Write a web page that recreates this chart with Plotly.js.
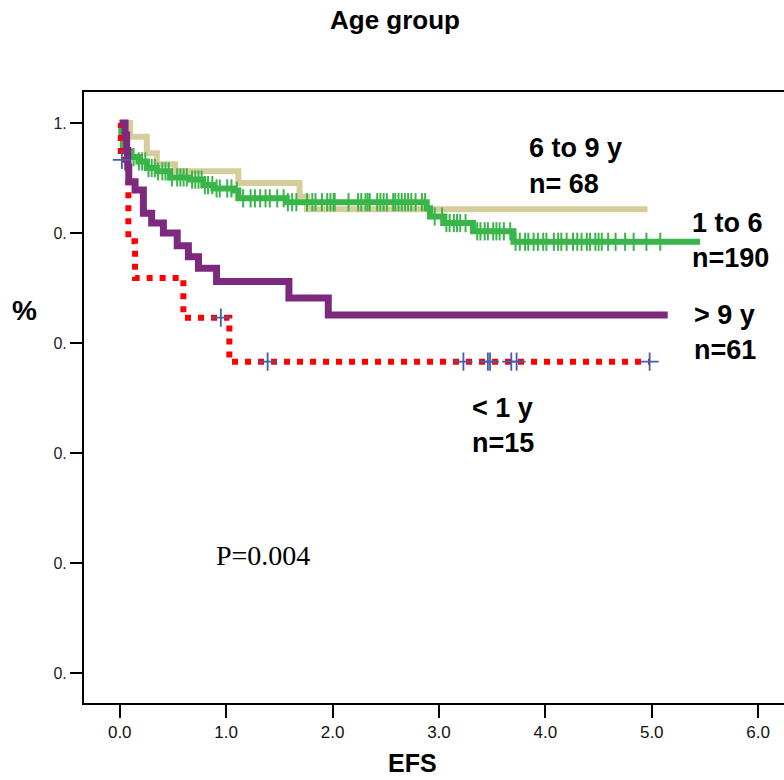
<!DOCTYPE html>
<html>
<head>
<meta charset="utf-8">
<script src="https://cdn.plot.ly/plotly-3.0.1.min.js"></script>
<style>html,body{margin:0;padding:0;background:#fff;}#chart{width:784px;height:780px;}</style>
</head>
<body>
<div id="chart"></div>
<script>
// ---- data ----
const tanT  = [0, 0.097, 0.254, 0.348, 0.52, 1.115, 1.69, 1.76, 4.96];
const tanS  = [1.0, 0.975, 0.945, 0.925, 0.912, 0.891, 0.866, 0.843, 0.843];

const greenT = [0, 0.015, 0.03, 0.05, 0.097, 0.175, 0.254, 0.348, 0.473, 0.66, 0.786, 0.88, 1.068, 1.115, 1.57, 2.885, 2.916, 3.04, 3.32, 3.70, 5.454];
const greenS = [1.0, 0.978, 0.96, 0.948, 0.938, 0.93, 0.918, 0.912, 0.901, 0.897, 0.887, 0.881, 0.877, 0.863, 0.856, 0.845, 0.830, 0.818, 0.803, 0.784, 0.784];
const greenCens = [0.05, 0.10, 0.13, 0.18, 0.21, 0.24, 0.27, 0.30, 0.33, 0.36, 0.40, 0.43, 0.46, 0.49, 0.54, 0.57, 0.60, 0.63, 0.68, 0.71, 0.74, 0.77, 0.80, 0.83, 0.87, 0.91, 0.94, 1.01, 1.05, 1.10, 1.16, 1.23, 1.27, 1.32, 1.37, 1.41, 1.48,
  1.54, 1.58, 1.62, 1.66, 1.76, 1.81, 1.84, 1.90, 1.95, 1.98, 2.01, 2.02, 2.15, 2.24, 2.27, 2.31, 2.33, 2.35, 2.42, 2.45, 2.48, 2.51, 2.57, 2.59, 2.62, 2.65, 2.68, 2.71, 2.74, 2.78, 2.84, 2.87,
  2.96, 3.03, 3.07, 3.10, 3.14, 3.17, 3.20, 3.25, 3.36, 3.39, 3.43, 3.46, 3.51, 3.54, 3.57, 3.61, 3.67, 3.72, 3.76, 3.81, 3.84, 3.89, 3.93, 3.98, 4.01, 4.08, 4.12, 4.15, 4.20, 4.26, 4.30, 4.34, 4.39, 4.42, 4.47, 4.50, 4.53, 4.59, 4.66, 4.75, 4.83, 4.95, 5.08];

const redT = [0, 0.01, 0.081, 0.144, 0.598, 1.03, 4.98];
const redS = [1.0, 0.933, 0.785, 0.718, 0.646, 0.566, 0.566];
const redCens = [0.02, 0.95, 1.39, 3.23, 3.46, 3.48, 3.68, 3.73, 4.98];

const purpT = [0, 0.05, 0.065, 0.075, 0.085, 0.144, 0.222, 0.30, 0.41, 0.54, 0.645, 0.74, 0.91, 1.59, 1.96, 5.15];
const purpS = [1.0, 0.978, 0.95, 0.92, 0.893, 0.878, 0.836, 0.818, 0.80, 0.777, 0.757, 0.736, 0.712, 0.682, 0.651, 0.651];

const xTickVals = [0, 1, 2, 3, 4, 5, 6];
const xTickText = ['0.0', '1.0', '2.0', '3.0', '4.0', '5.0', '6.0'];
const yTickVals = [0, 0.2, 0.4, 0.6, 0.8, 1.0];
const yTickText = ['0.', '0.', '0.', '0.', '0.', '1.'];

// ---- helpers ----
function stepAt(T, S, t) {
  let v = S[0];
  for (let i = 0; i < T.length; i++) { if (T[i] <= t) v = S[i]; }
  return v;
}

const COL_TAN = '#D5CE9A', COL_GREEN = '#39B54A', COL_PURP = '#7D2A7E', COL_RED = '#FF0000', COL_BLUE = '#3F60B0';

const traces = [
  {x: tanT, y: tanS, mode: 'lines', line: {shape: 'hv', color: COL_TAN, width: 6}, hoverinfo: 'skip'},
  {x: greenT, y: greenS, mode: 'lines', line: {shape: 'hv', color: COL_GREEN, width: 6}, hoverinfo: 'skip'},
  {x: greenCens, y: greenCens.map(t => stepAt(greenT, greenS, t)), mode: 'markers',
   marker: {symbol: 'line-ns-open', size: 13, color: COL_GREEN, line: {width: 2, color: COL_GREEN}}, hoverinfo: 'skip'},
  {x: redT, y: redS, mode: 'lines', line: {shape: 'hv', color: COL_RED, width: 6, dash: '6px,7px'}, hoverinfo: 'skip'},
  {x: purpT, y: purpS, mode: 'lines', line: {shape: 'hv', color: COL_PURP, width: 7}, hoverinfo: 'skip'},
  {x: redCens, y: redCens.map(t => stepAt(redT, redS, t)), mode: 'markers',
   marker: {symbol: 'cross-thin-open', size: 13, color: COL_BLUE, line: {width: 1.8, color: COL_BLUE}}, hoverinfo: 'skip'}
];

const lblFont = {family: 'Arial, Liberation Sans, sans-serif', size: 27, color: '#000'};
function lab(text, x, y) {
  return {text: '<b>' + text + '</b>', x: x, y: y, xref: 'x', yref: 'y', xanchor: 'left', yanchor: 'middle',
    showarrow: false, font: lblFont};
}

const annotations = [
  lab('6 to 9 y', 3.828, 0.955),
  lab('n= 68', 3.828, 0.889),
  lab('1 to 6', 5.36, 0.819),
  lab('n=190', 5.36, 0.755),
  lab('&gt; 9 y', 5.379, 0.651),
  lab('n=61', 5.379, 0.587),
  lab('&lt; 1 y', 3.292, 0.482),
  lab('n=15', 3.292, 0.418),
  {text: 'P=0.004', x: 0.886, y: 0.213, xref: 'x', yref: 'y', xanchor: 'left', yanchor: 'middle', showarrow: false,
   font: {family: 'Times New Roman, Liberation Serif, serif', size: 28, color: '#000'}},
  {text: '<b>Age group</b>', x: 0.4443, y: 1.1178, xref: 'paper', yref: 'paper', xanchor: 'center', yanchor: 'middle', showarrow: false,
   font: {family: 'Arial, Liberation Sans, sans-serif', size: 26, color: '#000'}},
  {text: '<b>EFS</b>', x: 0.4693, y: -0.0985, xref: 'paper', yref: 'paper', xanchor: 'center', yanchor: 'middle', showarrow: false,
   borderpad: 0, font: {family: 'Arial, Liberation Sans, sans-serif', size: 25, color: '#000'}},
  {text: '<b>%</b>', x: -0.0857, y: 0.6432, xref: 'paper', yref: 'paper', xanchor: 'center', yanchor: 'middle', showarrow: false,
   font: {family: 'Arial, Liberation Sans, sans-serif', size: 28, color: '#000'}}
];

const layout = {
  width: 784, height: 780,
  margin: {l: 84, r: 0, t: 92, b: 77, pad: 0},
  paper_bgcolor: '#fff', plot_bgcolor: '#fff',
  showlegend: false,
  xaxis: {range: [-0.336, 6.243], tickvals: xTickVals, ticktext: xTickText, ticks: 'outside', ticklen: 13, tickwidth: 2,
    tickcolor: '#000', showline: true, linewidth: 2, linecolor: '#000', mirror: true, showgrid: false, zeroline: false,
    tickfont: {family: 'Arial, Liberation Sans, sans-serif', size: 17, color: '#111'}},
  yaxis: {range: [-0.0545, 1.0563], tickvals: yTickVals, ticktext: yTickText, ticks: 'outside', ticklen: 12, tickwidth: 2,
    tickcolor: '#000', showline: true, linewidth: 2, linecolor: '#000', showgrid: false, zeroline: false,
    tickfont: {family: 'Arial, Liberation Sans, sans-serif', size: 16, color: '#222'}},
  annotations: annotations
};

Plotly.newPlot('chart', traces, layout, {displayModeBar: false, staticPlot: true});
</script>
</body>
</html>
